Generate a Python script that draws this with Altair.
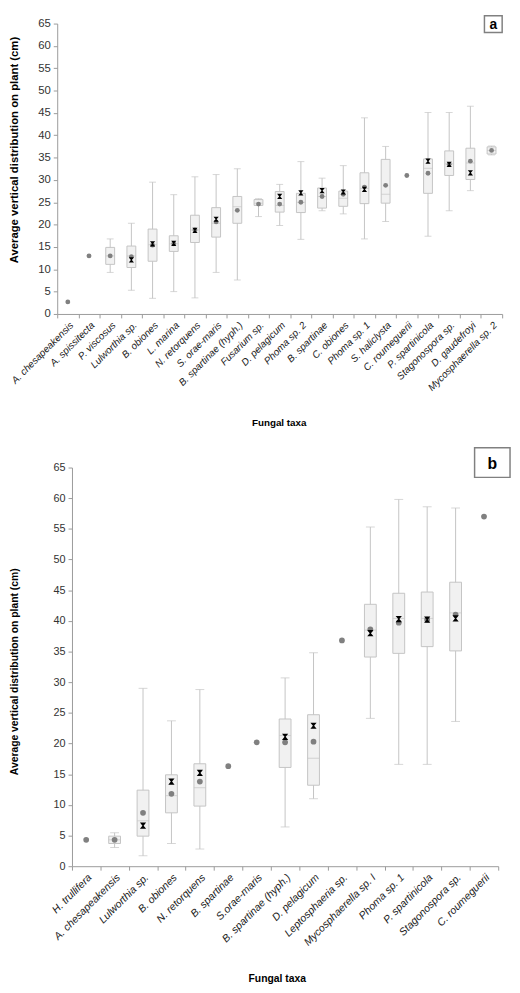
import altair as alt
import pandas as pd

N = None

# ---------------- Panel a ----------------
taxa_a = ["A. chesapeakensis", "A. spissitecta", "P. viscosus", "Lulworthia sp.", "B. obiones",
          "L. marina", "N. retorquens", "S. orae-maris", "B. spartinae (hyph.)", "Fusarium sp.",
          "D. pelagicum", "Phoma sp. 2", "B. spartinae", "C. obiones", "Phoma sp. 1",
          "S. haliclysta", "C. roumeguerii", "P. spartinicola", "Stagonospora sp.",
          "D. gaudefroyi", "Mycosphaerella sp. 2"]
wlo_a = [N, N, 9.3, 5.3, 3.5, 5.0, 3.6, 9.3, 7.6, 21.8, 19.8, 16.7, 23.1, 22.4, 16.8, 20.7, N, 17.4, 23.1, 27.6, 35.6]
q1_a = [N, N, 11.1, 10.4, 11.8, 14.0, 16.0, 17.2, 20.3, 24.3, 22.8, 22.7, 23.7, 24.1, 24.7, 24.8, N, 27.0, 31.0, 30.1, 35.8]
med_a = [N, N, 13.0, 13.0, 15.5, 15.7, 18.8, 20.3, 24.0, 24.8, 24.3, 25.0, 26.3, 25.9, 28.1, 26.8, N, 32.6, 33.6, 33.8, 36.6]
q3_a = [N, N, 14.9, 15.2, 19.0, 17.5, 22.1, 23.8, 26.3, 25.6, 27.4, 27.0, 28.2, 27.5, 31.6, 34.6, N, 34.7, 36.5, 37.1, 37.4]
whi_a = [N, N, 16.8, 20.3, 29.5, 26.7, 30.7, 31.2, 32.5, 25.8, 29.0, 34.1, 30.4, 33.2, 43.9, 37.5, N, 45.1, 45.1, 46.5, 37.6]
dot_a = [2.7, 13.0, 13.0, 12.8, 15.4, 15.7, 18.8, 20.6, 23.2, 24.6, 24.6, 25.0, 26.3, 26.8, 28.4, 28.8, 31.0, 31.5, 33.5, 34.2, 36.6]
cross_a = [N, N, N, 12.1, 15.7, 15.8, 18.7, 21.2, N, N, 26.3, 27.1, 27.6, 27.3, 27.9, N, N, 34.2, 33.5, 31.6, N]

# ---------------- Panel b ----------------
taxa_b = ["H. trullifera", "A. chesapeakensis", "Lulworthia sp.", "B. obiones", "N. retorquens",
          "B. spartinae", "S.orae-maris", "B. spartinae (hyph.)", "D. pelagicum", "Leptosphaeria sp.",
          "Mycosphaerella sp. I", "Phoma sp. 1", "P. spartinicola", "Stagonospora sp.", "C. roumeguerii"]
wlo_b = [N, 3.05, 1.7, 3.7, 2.8, N, N, 6.4, 11.0, N, 24.1, 16.6, 16.6, 23.6, N]
q1_b = [N, 3.7, 4.9, 8.7, 9.8, N, N, 16.1, 13.2, N, 34.1, 34.7, 35.8, 35.1, N]
med_b = [N, 4.3, 7.4, 11.5, 12.8, N, N, 21.3, 17.6, N, 38.5, 40.4, 40.4, 41.3, N]
q3_b = [N, 4.9, 12.4, 14.9, 16.7, N, N, 24.0, 24.7, N, 42.7, 44.5, 44.7, 46.3, N]
whi_b = [N, 5.45, 29.0, 23.7, 28.8, N, N, 30.7, 34.8, N, 55.3, 59.8, 58.6, 58.4, N]
dot_b = [4.3, 4.3, 8.7, 11.8, 13.8, 16.3, 20.2, 20.2, 20.3, 36.8, 38.6, 39.7, 40.2, 41.0, 57.0]
cross_b = [N, N, 6.6, 13.8, 15.2, N, N, 21.1, 22.9, N, 38.0, 40.3, 40.2, 40.4, N]

y_ticks = list(range(0, 66, 5))
y_domain = [0, 65]
panel_labels = ["a", "b"]
y_title = "Average vertical distribution on plant (cm)"
x_title = "Fungal taxa"

FONT = "Liberation Sans"
GREY_LINE = "#c4c4c4"
AXIS_GREY = "#9a9a9a"
HOURGLASS = "M-1,-1L1,-1L0.2,0L1,1L-1,1L-0.2,0Z"

VIEW_W, VIEW_H = 512, 985   # whole drawing area (page minus the 8px margin)


def panel(taxa, wlo, q1, med, q3, whi, dot, cross, xr, yr,
          box_w, cap_w, dot_size, cross_size,
          ytx, yty, xtx, xty, lab_fs, xlab_fs, ytitle_fs, xtitle_fs):
    df = pd.DataFrame({"taxon": taxa, "wlo": wlo, "q1": q1, "med": med, "q3": q3,
                       "whi": whi, "dot": dot, "cross": cross})
    xaxis = alt.Axis(orient="bottom", offset=yr[0] - VIEW_H, title=x_title,
                     labelAngle=-45, labelAlign="right", labelBaseline="top",
                     tickBand="extent", labelFontStyle="italic",
                     labelFontSize=xlab_fs, labelColor="#1a1a1a", labelFont=FONT,
                     domainColor=AXIS_GREY, tickColor=AXIS_GREY, tickSize=4, labelPadding=2,
                     titleFont=FONT, titleFontSize=xtitle_fs, titleFontWeight="bold",
                     titleX=xtx, titleY=xty, titleBaseline="top", titleColor="#000000")
    x = alt.X("taxon:N", sort=taxa,
              scale=alt.Scale(domain=taxa, range=list(xr), paddingInner=0, paddingOuter=0),
              axis=xaxis)

    def y(field):
        return alt.Y(f"{field}:Q", title=y_title,
                     scale=alt.Scale(domain=y_domain, range=list(yr), nice=False),
                     axis=alt.Axis(orient="left", offset=-xr[0], values=y_ticks, grid=False,
                                   labelFontSize=lab_fs, labelFont=FONT,
                                   labelColor="#333333", domainColor=AXIS_GREY, tickColor=AXIS_GREY,
                                   tickSize=4, labelPadding=3, titleFont=FONT,
                                   titleFontSize=ytitle_fs, titleFontWeight="bold",
                                   titleX=ytx, titleY=yty, titleColor="#000000"))

    base = alt.Chart(df)
    whisk = base.mark_rule(color=GREY_LINE, strokeWidth=1).encode(x=x, y=y("wlo"), y2="whi:Q")
    cap_lo = base.mark_tick(color=GREY_LINE, size=cap_w, thickness=1).encode(x=x, y=y("wlo"))
    cap_hi = base.mark_tick(color=GREY_LINE, size=cap_w, thickness=1).encode(x=x, y=y("whi"))
    box = base.mark_bar(size=box_w, fill="#f1f1f1", stroke=GREY_LINE, strokeWidth=1).encode(
        x=x, y=y("q1"), y2="q3:Q")
    medt = base.mark_tick(color=GREY_LINE, size=box_w, thickness=1).encode(x=x, y=y("med"))
    dots = base.mark_circle(color="#808080", opacity=1, size=dot_size).encode(x=x, y=y("dot"))
    crosses = base.mark_point(shape=HOURGLASS, filled=True, color="#000000", opacity=1,
                              size=cross_size).encode(x=x, y=y("cross"))
    return alt.layer(whisk, cap_lo, cap_hi, box, medt, dots, crosses)


def label_box(label, rect, fs):
    lab_df = pd.DataFrame({"lab": [label]})
    bx0, bx1, by0, by1 = rect
    box = alt.Chart(lab_df).mark_rect(fill="white", stroke="#808080", strokeWidth=1.5).encode(
        x=alt.value(bx0), x2=alt.value(bx1), y=alt.value(by0), y2=alt.value(by1))
    txt = alt.Chart(lab_df).mark_text(font=FONT, fontSize=fs, fontWeight="bold",
                                      color="#000000", align="center", baseline="middle").encode(
        x=alt.value((bx0 + bx1) / 2), y=alt.value((by0 + by1) / 2 + 1), text="lab:N")
    return box + txt


# pixel ranges inside the drawing area (origin = page offset 8,8)
pa = panel(taxa_a, wlo_a, q1_a, med_a, q3_a, whi_a, dot_a, cross_a,
           xr=(50, 502), yr=(303, 8), box_w=9, cap_w=7, dot_size=24, cross_size=28,
           ytx=-38, yty=136, xtx=275, xty=105, lab_fs=11.5, xlab_fs=10,
           ytitle_fs=11.5, xtitle_fs=10)
pb = panel(taxa_b, wlo_b, q1_b, med_b, q3_b, whi_b, dot_b, cross_b,
           xr=(65, 498), yr=(864, 459), box_w=12, cap_w=9, dot_size=34, cross_size=40,
           ytx=-53, yty=666, xtx=273, xty=109, lab_fs=11, xlab_fs=10.7,
           ytitle_fs=10.5, xtitle_fs=10.5)

labels = label_box(panel_labels[0], (484, 502, 0, 17), 14) + \
    label_box(panel_labels[1], (474, 510, 439, 469), 16)

chart = alt.layer(pa, pb, labels).resolve_scale(x="independent", y="independent").properties(
    width=VIEW_W, height=VIEW_H,
    autosize=alt.AutoSizeParams(type="none"),
    padding={"left": 0, "top": 0, "right": 0, "bottom": 0}
).configure(background="white").configure_view(stroke=None, strokeWidth=0)

chart.save("out.html", embed_options={"renderer": "svg", "actions": False})
